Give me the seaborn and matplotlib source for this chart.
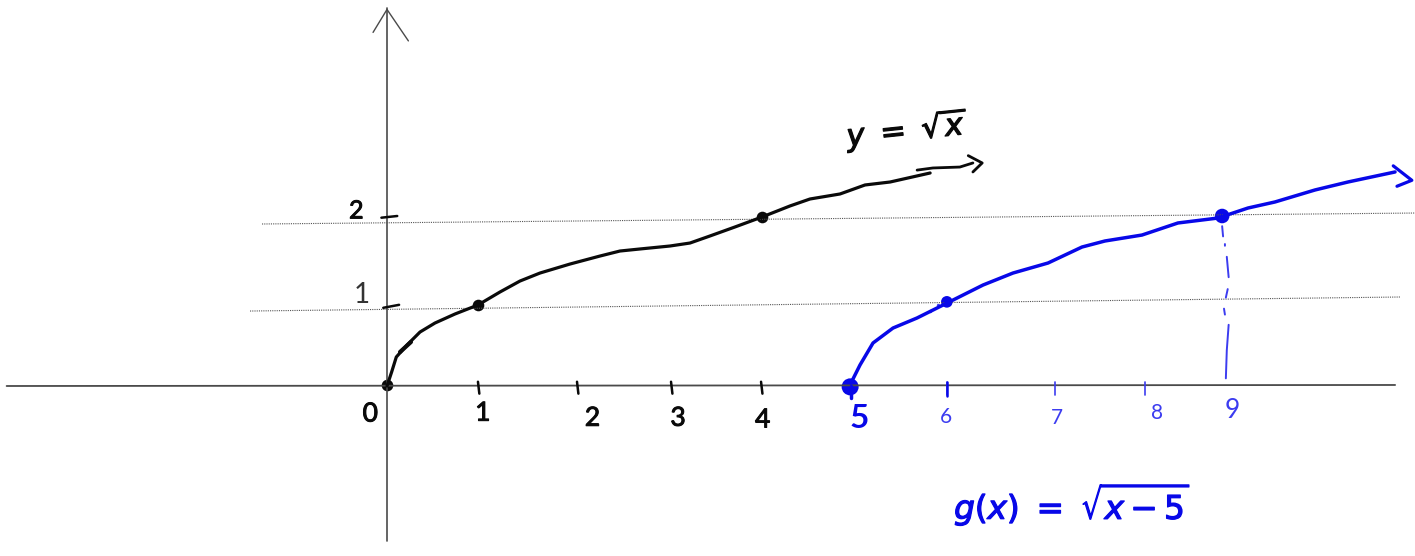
# Hand-sketched sqrt(x) and its shift g(x) = sqrt(x - 5)
import matplotlib
matplotlib.use("Agg")
import matplotlib.pyplot as plt
import matplotlib.patheffects as pe
import numpy as np
import pandas as pd
import seaborn as sns

# ============================================================
# Data (in axis units)
# ============================================================

sqrt_x = [0, 0.05, 0.10, 0.215, 0.355, 0.516, 0.731, 0.978, 1.215, 1.43, 1.645, 1.968, 2.29,
          2.505, 2.72, 3.043, 3.258, 3.473, 3.742, 4.032, 4.333, 4.548, 4.871, 5.14, 5.41, 5.84]
sqrt_y = [0, 0.165, 0.341, 0.482, 0.635, 0.741, 0.847, 0.953, 1.106, 1.235, 1.329, 1.435, 1.529,
          1.588, 1.612, 1.647, 1.682, 1.765, 1.871, 1.988, 2.118, 2.2, 2.259, 2.365, 2.4, 2.506]
sqrt_stub_x = [0.14, 0.258]
sqrt_stub_y = [0.40, 0.518]
sqrt_tail_x = [5.70, 5.87, 6.16, 6.30]
sqrt_tail_y = [2.54, 2.565, 2.576, 2.624]
sqrt_head_x = [6.25, 6.40, 6.30]
sqrt_head_y = [2.71, 2.624, 2.518]

shift_x = [4.989, 5.086, 5.226, 5.441, 5.699, 6.022, 6.409, 6.731, 7.108, 7.473, 7.72, 8.118,
           8.505, 8.935, 9.258, 9.548, 9.978, 10.333, 10.839]
shift_y = [0.035, 0.247, 0.506, 0.682, 0.8, 0.976, 1.188, 1.329, 1.447, 1.635, 1.706, 1.776,
           1.918, 1.976, 2.094, 2.165, 2.306, 2.4, 2.518]
shift_head_x = [10.82, 11.02, 10.86]
shift_head_y = [2.59, 2.42, 2.35]
shift_start_x = [4.99, 4.99]
shift_start_y = [0.0, -0.14]

black_dots_x = [0.0, 0.98, 4.03]
black_dots_y = [0.01, 0.95, 1.99]
blue_dots_x = [4.98, 6.02, 8.98]
blue_dots_y = [-0.01, 0.99, 2.0]
blue_dots_size = [150, 70, 110]
speck_x = [5.84, 5.92]
speck_y = [0.88, 0.95]

black_ticks = [0.978, 2.043, 3.054, 4.022]
blue_ticks = [6.022, 7.183, 8.15]

guide_x = [[-1.344, 11.054], [-1.473, 10.892]]
guide_y = [[1.906, 2.035], [0.882, 1.047]]

drop_x = [8.98, 8.99, np.nan, 9.01, 9.01, np.nan, 9.03, 9.05, np.nan, 9.04, 9.02, np.nan,
          9.0, 9.01, np.nan, 9.05, 9.03, 9.02]
drop_y = [1.88, 1.76, np.nan, 1.67, 1.65, np.nan, 1.52, 1.28, np.nan, 1.14, 1.04, np.nan,
          0.91, 0.84, np.nan, 0.72, 0.42, 0.09]

black_labels = ["0", "1", "2", "3", "4"]
black_label_x = [-0.18, 1.03, 2.21, 3.13, 4.04]
black_label_y = [-0.33, -0.32, -0.38, -0.38, -0.40]
blue_labels = ["6", "7", "8", "9"]
blue_label_x = [6.01, 7.2, 8.28, 9.09]
blue_label_y = [-0.36, -0.38, -0.32, -0.29]
blue_label_size = [15, 15, 15, 19]

# ============================================================
# Figure
# ============================================================

BLACK = "#0a0a0a"
BLUE = "#0808e8"
THIN_BLUE = "#3c3cf0"
AXIS = "#4a4a4a"
PEN = "Lato"

sns.set_theme(style="white")
plt.rcParams["mathtext.fontset"] = "dejavusans"

fig = plt.figure(figsize=(14.15, 5.56), dpi=100)
ax = fig.add_axes([0, 0, 1, 1])
ax.set_xlim(-387 / 93, (1415 - 387) / 93)
ax.set_ylim(-(556 - 386) / 85, 386 / 85)
ax.axis("off")


def stroke(xs, ys, color, width):
    df = pd.DataFrame({"x": xs, "y": ys})
    sns.lineplot(data=df, x="x", y="y", ax=ax, color=color, linewidth=width,
                 estimator=None, sort=False, legend=False,
                 solid_joinstyle="round", solid_capstyle="round")


def heavy(width, color):
    return [pe.withStroke(linewidth=width, foreground=color)]


# Axes and arrowhead
stroke([-4.09, 10.84], [0.0, 0.012], AXIS, 1.3)
stroke([0.0, 0.0], [-1.82, 4.45], AXIS, 1.2)
stroke([-0.15, 0.0, 0.23], [4.16, 4.43, 4.06], AXIS, 1.0)

# Dotted guides
for gx, gy in zip(guide_x, guide_y):
    ax.plot(gx, gy, color="#555555", linewidth=0.8, linestyle=(0, (1, 1)))

# Ticks
for t in black_ticks:
    stroke([t, t + 0.015], [0.05, -0.09], BLACK, 1.8)
for t in blue_ticks:
    stroke([t, t], [0.05, -0.1], THIN_BLUE, 1.2)
stroke([6.022, 6.022], [0.05, -0.12], BLUE, 1.8)
stroke([-0.06, 0.11], [1.98, 2.0], BLACK, 1.8)
stroke([-0.04, 0.13], [0.92, 0.955], BLACK, 1.8)

# Curves
stroke(sqrt_x, sqrt_y, BLACK, 2.3)
stroke(sqrt_stub_x, sqrt_stub_y, BLACK, 3.0)
stroke(sqrt_tail_x, sqrt_tail_y, BLACK, 2.0)
stroke(sqrt_head_x, sqrt_head_y, BLACK, 2.0)
stroke(shift_x, shift_y, BLUE, 2.5)
stroke(shift_head_x, shift_head_y, BLUE, 2.3)
stroke(shift_start_x, shift_start_y, BLUE, 2.5)
ax.plot(drop_x, drop_y, color=THIN_BLUE, linewidth=1.4, solid_capstyle="round")

# Points
sns.scatterplot(x=black_dots_x, y=black_dots_y, ax=ax, color=BLACK, s=70, linewidth=0, legend=False)
sns.scatterplot(x=blue_dots_x, y=blue_dots_y, ax=ax, color=BLUE, size=blue_dots_size,
                sizes=(70, 150), linewidth=0, legend=False)
sns.scatterplot(x=speck_x, y=speck_y, ax=ax, color=THIN_BLUE, s=6, linewidth=0, legend=False)

# Labels
for s, x, y in zip(black_labels, black_label_x, black_label_y):
    ax.text(x, y, s, color=BLACK, fontsize=19, family=PEN, ha="center", va="center",
            path_effects=heavy(0.7, BLACK))
for s, x, y, size in zip(blue_labels, blue_label_x, blue_label_y, blue_label_size):
    ax.text(x, y, s, color=THIN_BLUE, fontsize=size, family=PEN, ha="center", va="center")
ax.text(5.08, -0.38, "5", color=BLUE, fontsize=24, fontweight="bold", family=PEN, ha="center", va="center")
ax.text(-0.33, 2.06, "2", color=BLACK, fontsize=18, family=PEN, ha="center", va="center",
        path_effects=heavy(0.7, BLACK))
ax.text(-0.27, 1.07, "1", color="#333333", fontsize=20, family=PEN, ha="center", va="center")

ax.text(5.6, 3.02, r"$y\ =\ \sqrt{x}$", color=BLACK, fontsize=22, rotation=6, ha="center", va="center",
        path_effects=heavy(0.9, BLACK))
ax.text(7.37, -1.38, r"$g(x)\ =\ \sqrt{x-5}$", color=BLUE, fontsize=23.5, ha="center", va="center",
        path_effects=heavy(0.9, BLUE))

fig.savefig("out.png", dpi=100)
